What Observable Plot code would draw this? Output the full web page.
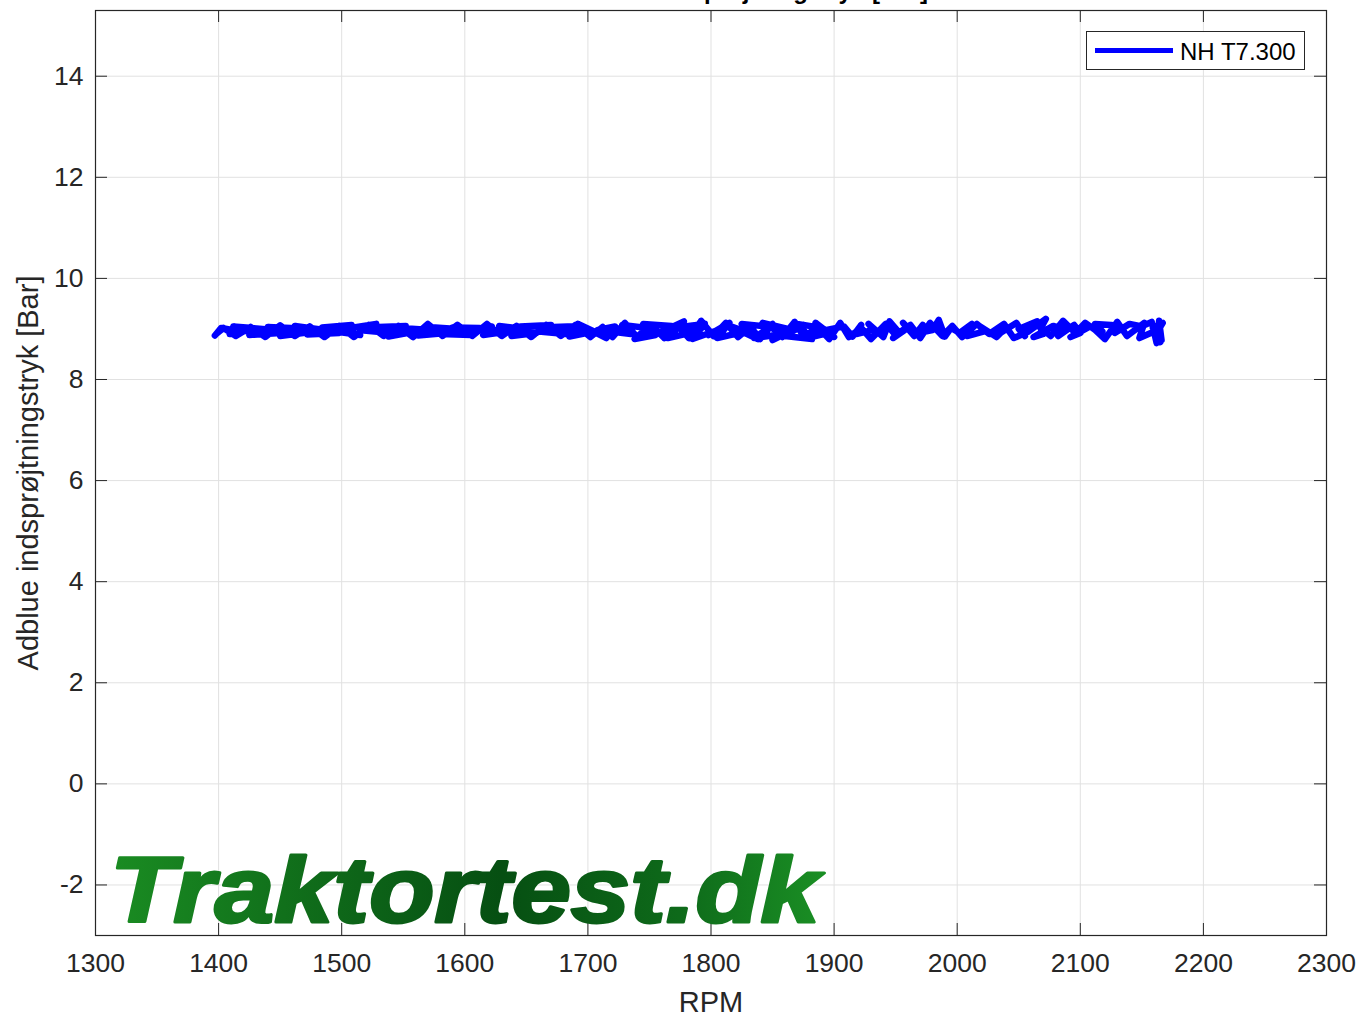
<!DOCTYPE html>
<html><head><meta charset="utf-8">
<script src="https://cdn.jsdelivr.net/npm/d3@7"></script>
<script src="https://cdn.jsdelivr.net/npm/@observablehq/plot@0.6"></script>
<style>
body{margin:0;background:#fff;font-family:"Liberation Sans",Arial,sans-serif;}
#wrap{position:relative;width:1361px;height:1018px;overflow:hidden;background:#fff;}
#title{position:absolute;left:0;width:1361px;top:-21px;height:24px;line-height:24px;font-size:24px;font-weight:bold;color:#000;white-space:nowrap;}
#title span{position:absolute;right:433px;}
#legend{position:absolute;left:1086px;top:31px;width:217px;height:37px;border:1px solid #262626;background:#fff;}
#legend .sw{position:absolute;left:8px;top:16px;width:78px;height:5px;background:#0000ff;}
#legend .lb{position:absolute;left:93px;top:0;line-height:39px;font-size:24px;color:#000;white-space:nowrap;}
</style></head><body>
<div id="wrap"><div id="title"><span>Adblue indsprøjtningstryk [Bar]</span></div></div>
<script>
const rpm = [
 1397,1402,1418,1409,1430,1412,1445,1425,1456,1440,1468,1450,1478,1462,1489,1472,1498,1484,1508,1495,1515,1502,
 1528,1518,1540,1530,1552,1538,1560,1548,1572,1562,1585,1570,1594,1580,1605,1590,1612,
 1600,1622,1615,1635,1628,1648,1638,1658,1645,1670,1660,1682,1672,1695,1685,1705,1692,
 1715,1722,1708,1735,1728,1748,1738,1755,1745,1768,1758,1778,1765,1788,1775,1795,1785,1808,1798,1815,
 1805,1828,1815,1838,1825,1848,1835,1858,1842,1866,1850,1875,1860,1882,1870,1890,1878,1895,1885,1900,1890,1908,
 1915,1922,1918,1932,1928,1940,1945,1952,1948,1960,1956,1965,1972,1968,1980,1985,1990,1995,2002,
 2012,2008,2022,2018,2032,2040,2035,2048,2055,2050,2065,2070,2062,2078,2088,2082,2095,2100,2092,
 2108,2118,2112,2125,2132,2128,2140,2150,2158,2162,2164,2166,2159,2167,2161,2165,
 2160,2148,2152,2138,2130,2120,2112,2104,2096,2086,2076,2068,2072,2058,2046,2038,2026,2016,2004,1996,
 1988,1978,1970,1962,1950,1942,1930,1922,1912,1905,1896,1886,1876,1868,1858,1850,1840,1832,1822,1812,
 1802,1792,1782,1772,1762,1752,1740,1730,1720,1712,1702,1690,1678,1666,1654,1642,1630,1618,1606,1594,
 1582,1570,1558,1546,1534,1522,1510,1498,1486,1474,1462,1450,1438,1426,1414,1404,1398
];
const bar = [
 8.87,9.02,8.95,8.90,9.00,9.05,8.98,8.88,8.93,9.04,9.01,8.86,8.95,9.06,8.97,8.89,8.92,9.03,9.08,8.95,8.88,9.00,
 9.10,8.97,8.92,9.04,9.06,8.85,8.95,9.02,8.98,8.87,8.92,9.04,9.00,8.90,8.88,9.03,9.02,
 8.95,9.05,8.88,8.95,9.06,9.00,8.86,8.92,9.05,9.08,8.95,8.90,9.04,9.06,8.85,8.95,9.10,
 8.82,9.05,8.98,8.90,9.08,9.02,8.80,8.88,9.10,9.06,8.92,9.15,8.82,8.95,9.04,9.10,8.80,9.00,8.88,9.12,
 8.82,8.95,9.06,8.80,9.10,9.04,8.82,8.90,9.12,8.98,8.78,9.08,8.86,8.80,9.10,9.02,8.82,8.92,9.12,8.84,8.96,9.05,
 8.85,9.08,8.90,8.98,9.10,8.84,9.15,8.95,8.82,9.02,9.12,8.86,9.08,8.92,8.98,9.18,8.85,9.02,8.92,
 9.10,8.86,8.95,9.06,8.84,9.04,8.92,9.12,8.86,9.00,9.15,8.90,8.84,9.06,8.98,8.86,9.08,8.92,8.84,
 9.05,8.95,9.10,9.08,9.02,8.92,9.10,9.05,9.14,8.72,9.16,8.78,9.02,9.12,8.88,8.74,
 8.95,8.82,9.12,8.86,9.14,8.80,8.98,9.12,8.92,9.16,8.86,9.02,9.20,8.95,8.82,9.10,8.90,9.10,8.84,9.06,
 8.86,9.12,8.82,9.08,8.88,9.10,8.80,9.02,8.84,9.12,8.80,9.06,8.82,9.14,8.84,9.10,8.80,9.04,8.84,9.12,
 8.86,9.16,8.82,9.08,8.82,9.06,8.84,9.12,8.84,9.04,8.84,9.08,8.86,9.08,8.84,9.06,8.86,9.10,8.86,9.08,
 8.86,9.10,8.84,9.06,8.86,9.08,8.84,9.06,8.84,9.05,8.86,9.07,8.84,9.04,8.86,9.02,8.90
];
const xTicks = [1300,1400,1500,1600,1700,1800,1900,2000,2100,2200,2300];
const yTicks = [-2,0,2,4,6,8,10,12,14];
const xDomain = [1300,2300];
const yDomain = [-3,15.3];
const seriesName = "NH T7.300";
const xLabel = "RPM";
const yLabel = "Adblue indsprøjtningstryk [Bar]";
const logoText = "Traktortest.dk";

const data = rpm.map((x,i)=>({rpm:x, bar:bar[i]}));
const W=1361,H=1018,mL=95,mR=35,mT=10,mB=83;
const fw=W-mL-mR, fh=H-mT-mB, tl=12;
const axisColor="#262626", gridColor="#e1e1e1";
const font='"Liberation Sans", Arial, sans-serif';

const chart = Plot.plot({
  width:W,height:H,marginLeft:mL,marginRight:mR,marginTop:mT,marginBottom:mB,
  style:{fontFamily:font,fontSize:"26px",color:axisColor,background:"#fff",overflow:"visible"},
  x:{domain:xDomain},
  y:{domain:yDomain},
  marks:[
    Plot.gridX(xTicks,{stroke:gridColor,strokeOpacity:1}),
    Plot.gridY(yTicks,{stroke:gridColor,strokeOpacity:1}),
    Plot.line(data,{x:"rpm",y:"bar",stroke:"#0000ff",strokeWidth:6.5,strokeLinejoin:"round",strokeLinecap:"round"}),
    Plot.tickX(xTicks,{x:d=>d,insetTop:fh-tl,stroke:axisColor}),
    Plot.tickX(xTicks,{x:d=>d,insetBottom:fh-tl,stroke:axisColor}),
    Plot.tickY(yTicks,{y:d=>d,insetRight:fw-tl,stroke:axisColor}),
    Plot.tickY(yTicks,{y:d=>d,insetLeft:fw-tl,stroke:axisColor}),
    Plot.frame({stroke:axisColor,strokeWidth:1.2}),
    Plot.axisX(xTicks,{tickSize:0,tickPadding:18,fontSize:26.5,label:null,tickFormat:d=>String(d),fill:axisColor}),
    Plot.axisY(yTicks,{tickSize:0,tickPadding:12,fontSize:26.5,label:null,tickFormat:d=>String(d),fill:axisColor}),
    Plot.text([xLabel],{frameAnchor:"bottom",dy:67,text:d=>d,fontSize:29,fill:axisColor,lineAnchor:"middle",textAnchor:"middle"}),
    Plot.text([yLabel],{frameAnchor:"left",dx:-67,rotate:-90,text:d=>d,fontSize:29,fill:axisColor,lineAnchor:"middle",textAnchor:"middle"})
  ]
});
const wrap=document.getElementById("wrap");
chart.style.position="absolute";chart.style.left="0";chart.style.top="0";
wrap.insertBefore(chart,wrap.firstChild);

// watermark logo
const svg=d3.select(chart);
const defs=svg.append("defs");
const g=defs.append("linearGradient").attr("id","logoGrad").attr("gradientUnits","userSpaceOnUse")
  .attr("x1",110).attr("x2",822).attr("y1",0).attr("y2",0);
[[0,"#1a8c22"],[0.35,"#0d6418"],[0.55,"#064f12"],[0.8,"#0e6a1a"],[1,"#1a8e24"]].forEach(([o,c])=>g.append("stop").attr("offset",o).attr("stop-color",c));
svg.append("text").text(logoText)
  .attr("x",110).attr("y",922).attr("text-anchor","start")
  .attr("font-family",font).attr("font-weight","bold").attr("font-style","italic")
  .attr("font-size",92).attr("textLength",710).attr("lengthAdjust","spacingAndGlyphs")
  .attr("fill","url(#logoGrad)").attr("stroke","url(#logoGrad)").attr("stroke-width",3).attr("stroke-linejoin","round");

// legend
const lg=document.createElement("div");lg.id="legend";
lg.innerHTML='<div class="sw"></div><div class="lb"></div>';
lg.querySelector(".lb").textContent=seriesName;
wrap.appendChild(lg);
</script></body></html>
